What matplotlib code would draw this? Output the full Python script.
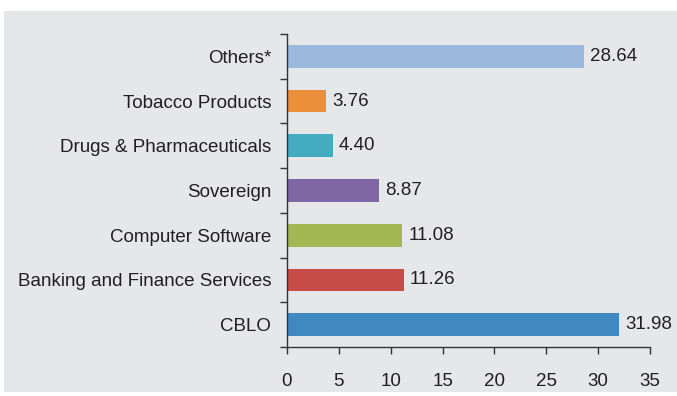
import numpy as np
import matplotlib.pyplot as plt
from matplotlib.patches import Rectangle

plt.rcParams['font.family'] = ['Liberation Sans', 'DejaVu Sans']

# sector allocation, bottom to top
sectors = ['CBLO', 'Banking and Finance Services', 'Computer Software',
           'Sovereign', 'Drugs & Pharmaceuticals', 'Tobacco Products', 'Others*']
weights = [31.98, 11.26, 11.08, 8.87, 4.40, 3.76, 28.64]
colors = ['#3f88c0', '#c74b48', '#a5b752', '#7f67a6', '#44acc0', '#ec8f3b', '#9bb9dc']
xticks = [0, 5, 10, 15, 20, 25, 30, 35]

text_col = '#231f20'
panel_col = '#e6e7e9'
fs = 13.5

fig = plt.figure(figsize=(6.77, 3.96), dpi=100)
fig.patch.set_facecolor('white')
fig.add_artist(Rectangle((4 / 677, 4 / 396), 1 - 4 / 677, 1 - 15 / 396,
                         transform=fig.transFigure, facecolor=panel_col,
                         edgecolor='none', zorder=-10))

ax = fig.add_axes([287 / 677, 49 / 396, 363 / 677, 313 / 396])
ax.set_facecolor('none')

y = np.arange(len(sectors))
ax.barh(y, weights, height=0.51, color=colors, zorder=2)

for yi, w in zip(y, weights):
    ax.text(w + 0.6, yi, f'{w:.2f}', va='center', ha='left',
            fontsize=fs, color=text_col)

ax.set_xlim(0, 35)
ax.set_ylim(-0.5, len(sectors) - 0.5)
ax.set_xticks(xticks)
ax.set_yticks(y)
ax.set_yticklabels(sectors)
ax.set_yticks(np.arange(-0.5, len(sectors), 1), minor=True)

ax.tick_params(axis='y', which='major', length=0, pad=11.5, labelsize=fs, labelcolor=text_col)
ax.tick_params(axis='y', which='minor', length=5, width=1, color='#333333', direction='out')
ax.tick_params(axis='x', length=5, width=1, color='#333333', pad=13.5,
               labelsize=fs, labelcolor=text_col)

for side in ['top', 'right']:
    ax.spines[side].set_visible(False)
for side in ['left', 'bottom']:
    ax.spines[side].set_color('#333333')
    ax.spines[side].set_linewidth(1)

fig.savefig('out.png', dpi=100)
